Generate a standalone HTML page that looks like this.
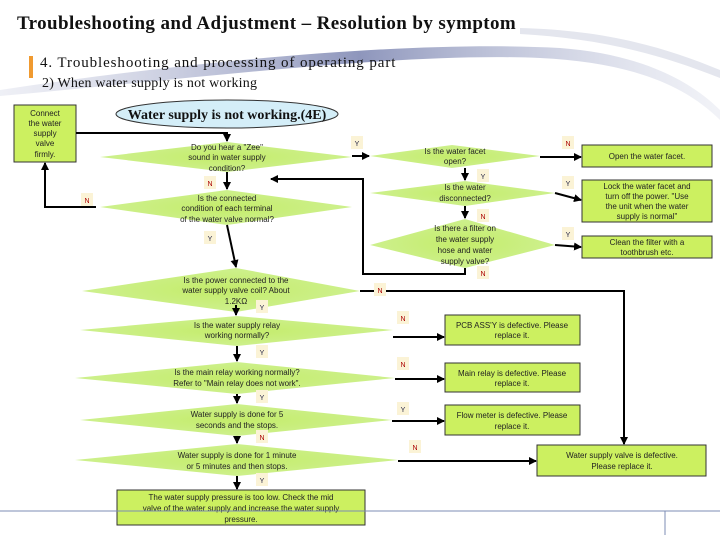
<!DOCTYPE html>
<html><head><meta charset="utf-8"><style>
html,body{margin:0;padding:0;background:#fff;}
svg{display:block;}
text{font-family:"Liberation Sans",sans-serif;}
.t{font-size:8px;fill:#222;text-anchor:middle;}
.h{font-family:"Liberation Serif",serif;}
.yl{font-size:7px;fill:#224;text-anchor:middle;}
.nl{font-size:7px;fill:#a00;text-anchor:middle;}
</style></head><body>
<svg width="720" height="540" viewBox="0 0 720 540" xmlns="http://www.w3.org/2000/svg">
<defs>
<linearGradient id="sw" x1="0" y1="0" x2="1" y2="0">
<stop offset="0" stop-color="#c8cce0" stop-opacity="0.3"/>
<stop offset="0.5" stop-color="#8e96bc"/>
<stop offset="1" stop-color="#dde0ec" stop-opacity="0.4"/>
</linearGradient>
<radialGradient id="dg" cx="0.5" cy="0.5" r="0.6">
<stop offset="0" stop-color="#c4ec6a"/>
<stop offset="0.8" stop-color="#cdf08c"/>
<stop offset="1" stop-color="#e8f8d0"/>
</radialGradient>
<marker id="a" markerWidth="8" markerHeight="8" refX="7" refY="4" orient="auto" markerUnits="userSpaceOnUse">
<path d="M0,0 L8,4 L0,8 z" fill="#000"/></marker>
</defs>
<!-- swoosh -->
<path d="M0,90 C200,60 420,40 560,48 C640,54 690,80 720,110 L720,120 C680,80 620,62 540,58 C400,52 200,78 0,96 z" fill="url(#sw)"/>
<path d="M520,28 C600,30 660,45 720,70 L720,78 C650,50 590,38 520,34 z" fill="#e4e6ee"/>
<text x="17" y="29" class="h" font-size="19" font-weight="bold" fill="#111" letter-spacing="0.4">Troubleshooting and Adjustment – Resolution by symptom</text>
<rect x="29" y="56" width="4" height="22" fill="#f09a30"/>
<text x="40" y="67" class="h" font-size="15" fill="#111" letter-spacing="0.9">4. Troubleshooting and processing of operating part</text>
<text x="42" y="87" class="h" font-size="14" fill="#111" letter-spacing="0.2">2) When water supply is not working</text>

<!-- oval -->
<ellipse cx="227" cy="114" rx="111" ry="14" fill="#d4eef8" stroke="#333"/>
<text x="227" y="119" class="h" font-size="14" font-weight="bold" text-anchor="middle" fill="#111">Water supply is not working.(4E)</text>

<!-- connect box -->
<rect x="14" y="105" width="62" height="57" fill="#ccf060" stroke="#333"/>
<text class="t" font-size="7.5"><tspan x="45" y="116">Connect</tspan><tspan x="45" y="126">the water</tspan><tspan x="45" y="136">supply</tspan><tspan x="45" y="146">valve</tspan><tspan x="45" y="157">firmly.</tspan></text>

<!-- diamonds -->
<polygon points="100,157 227,142 352,157 227,172" fill="url(#dg)"/>
<text class="t"><tspan x="227" y="150">Do you hear a "Zee"</tspan><tspan x="227" y="160">sound in water supply</tspan><tspan x="227" y="171">condition?</tspan></text>
<polygon points="100,207 227,190 352,207 227,225" fill="url(#dg)"/>
<text class="t"><tspan x="227" y="201">Is the connected</tspan><tspan x="227" y="211">condition of each terminal</tspan><tspan x="227" y="222">of the water valve normal?</tspan></text>
<polygon points="82,291 236,268 360,291 236,312" fill="url(#dg)"/>
<text class="t"><tspan x="236" y="283">Is the power connected to the</tspan><tspan x="236" y="293">water supply valve coil? About</tspan><tspan x="236" y="304">1.2KΩ</tspan></text>
<polygon points="80,330 237,316 393,330 237,346" fill="url(#dg)"/>
<text class="t"><tspan x="237" y="328">Is the water supply relay</tspan><tspan x="237" y="338">working normally?</tspan></text>
<polygon points="75,378 237,362 395,378 237,394" fill="url(#dg)"/>
<text class="t"><tspan x="237" y="375">Is the main relay working normally?</tspan><tspan x="237" y="386">Refer to "Main relay does not work".</tspan></text>
<polygon points="80,420 237,404 392,420 237,436" fill="url(#dg)"/>
<text class="t"><tspan x="237" y="417">Water supply is done for 5</tspan><tspan x="237" y="428">seconds and the stops.</tspan></text>
<polygon points="75,460 237,444 398,460 237,476" fill="url(#dg)"/>
<text class="t"><tspan x="237" y="458">Water supply is done for 1 minute</tspan><tspan x="237" y="469">or 5 minutes and then stops.</tspan></text>

<polygon points="370,156 452,145 540,156 452,168" fill="url(#dg)"/>
<text class="t"><tspan x="455" y="154">Is the water facet</tspan><tspan x="455" y="164">open?</tspan></text>
<polygon points="370,193 465,181 555,193 465,206" fill="url(#dg)"/>
<text class="t"><tspan x="465" y="190">Is the water</tspan><tspan x="465" y="201">disconnected?</tspan></text>
<polygon points="370,245 465,219 555,245 465,268" fill="url(#dg)"/>
<text class="t"><tspan x="465" y="231">Is there a filter on</tspan><tspan x="465" y="242">the water supply</tspan><tspan x="465" y="253">hose and water</tspan><tspan x="465" y="264">supply valve?</tspan></text>

<!-- boxes -->
<g fill="#ccf060" stroke="#333">
<rect x="582" y="145" width="130" height="22"/>
<rect x="582" y="180" width="130" height="42"/>
<rect x="582" y="236" width="130" height="22"/>
<rect x="445" y="315" width="135" height="30"/>
<rect x="445" y="363" width="135" height="29"/>
<rect x="445" y="405" width="135" height="30"/>
<rect x="537" y="445" width="169" height="31"/>
<rect x="117" y="490" width="248" height="35"/>
</g>
<text class="t"><tspan x="647" y="159">Open the water facet.</tspan></text>
<text class="t"><tspan x="647" y="189">Lock the water facet and</tspan><tspan x="647" y="199">turn off the power.  "Use</tspan><tspan x="647" y="209">the unit when the water</tspan><tspan x="647" y="219">supply is normal"</tspan></text>
<text class="t"><tspan x="647" y="245">Clean the filter with a</tspan><tspan x="647" y="255">toothbrush etc.</tspan></text>
<text class="t"><tspan x="512" y="328">PCB ASS'Y is defective. Please</tspan><tspan x="512" y="338">replace it.</tspan></text>
<text class="t"><tspan x="512" y="376">Main relay is defective. Please</tspan><tspan x="512" y="386">replace it.</tspan></text>
<text class="t"><tspan x="512" y="418">Flow meter is defective. Please</tspan><tspan x="512" y="429">replace it.</tspan></text>
<text class="t"><tspan x="622" y="458">Water supply valve is defective.</tspan><tspan x="622" y="469">Please replace it.</tspan></text>
<text class="t"><tspan x="241" y="500">The water supply pressure is too low. Check the mid</tspan><tspan x="241" y="511">valve of the water supply and increase the water supply</tspan><tspan x="241" y="522">pressure.</tspan></text>

<!-- connectors -->
<g stroke="#000" stroke-width="2" fill="none">
<polyline points="76,133 227,133 227,141" marker-end="url(#a)"/>
<line x1="227" y1="172" x2="227" y2="189" marker-end="url(#a)"/>
<polyline points="96,207 45,207 45,163" marker-end="url(#a)"/>
<line x1="227" y1="225" x2="236" y2="267" marker-end="url(#a)"/>
<line x1="352" y1="156" x2="369" y2="156" marker-end="url(#a)"/>
<line x1="540" y1="157" x2="581" y2="157" marker-end="url(#a)"/>
<line x1="465" y1="168" x2="465" y2="180" marker-end="url(#a)"/>
<line x1="555" y1="193" x2="581" y2="200" marker-end="url(#a)"/>
<line x1="465" y1="206" x2="465" y2="218" marker-end="url(#a)"/>
<line x1="555" y1="245" x2="581" y2="247" marker-end="url(#a)"/>
<polyline points="465,268 465,274 363,274 363,179 271,179" marker-end="url(#a)"/>
<polyline points="360,291 624,291 624,444" marker-end="url(#a)"/>
<line x1="236" y1="305" x2="236" y2="315" marker-end="url(#a)"/>
<line x1="393" y1="337" x2="444" y2="337" marker-end="url(#a)"/>
<line x1="237" y1="346" x2="237" y2="361" marker-end="url(#a)"/>
<line x1="395" y1="379" x2="444" y2="379" marker-end="url(#a)"/>
<line x1="237" y1="394" x2="237" y2="403" marker-end="url(#a)"/>
<line x1="392" y1="421" x2="444" y2="421" marker-end="url(#a)"/>
<line x1="237" y1="436" x2="237" y2="443" marker-end="url(#a)"/>
<line x1="398" y1="461" x2="536" y2="461" marker-end="url(#a)"/>
<line x1="237" y1="476" x2="237" y2="489" marker-end="url(#a)"/>
</g>

<!-- Y/N labels -->
<g fill="#fbf3d6">
<rect x="351" y="136" width="12" height="13"/><rect x="562" y="136" width="12" height="13"/>
<rect x="477" y="169" width="12" height="13"/><rect x="562" y="176" width="12" height="13"/>
<rect x="477" y="209" width="12" height="13"/><rect x="562" y="227" width="12" height="13"/>
<rect x="477" y="266" width="12" height="13"/><rect x="374" y="283" width="12" height="13"/>
<rect x="204" y="176" width="12" height="13"/><rect x="81" y="193" width="12" height="13"/>
<rect x="204" y="231" width="12" height="13"/><rect x="256" y="300" width="12" height="13"/>
<rect x="397" y="311" width="12" height="13"/><rect x="256" y="345" width="12" height="13"/>
<rect x="397" y="357" width="12" height="13"/><rect x="256" y="390" width="12" height="13"/>
<rect x="397" y="402" width="12" height="13"/><rect x="256" y="430" width="12" height="13"/>
<rect x="409" y="440" width="12" height="13"/><rect x="256" y="473" width="12" height="13"/>
</g>
<text class="yl" x="357" y="146">Y</text><text class="nl" x="568" y="146">N</text>
<text class="yl" x="483" y="179">Y</text><text class="yl" x="568" y="186">Y</text>
<text class="nl" x="483" y="219">N</text><text class="yl" x="568" y="237">Y</text>
<text class="nl" x="483" y="276">N</text><text class="nl" x="380" y="293">N</text>
<text class="nl" x="210" y="186">N</text><text class="nl" x="87" y="203">N</text>
<text class="yl" x="210" y="241">Y</text><text class="yl" x="262" y="310">Y</text>
<text class="nl" x="403" y="321">N</text><text class="yl" x="262" y="355">Y</text>
<text class="nl" x="403" y="367">N</text><text class="yl" x="262" y="400">Y</text>
<text class="yl" x="403" y="412">Y</text><text class="nl" x="262" y="440">N</text>
<text class="nl" x="415" y="450">N</text><text class="yl" x="262" y="483">Y</text>

<!-- footer -->
<line x1="0" y1="511" x2="720" y2="511" stroke="#7c8cb4" stroke-width="1"/>
<line x1="665" y1="511" x2="665" y2="535" stroke="#7c8cb4" stroke-width="1"/>
</svg>
</body></html>
